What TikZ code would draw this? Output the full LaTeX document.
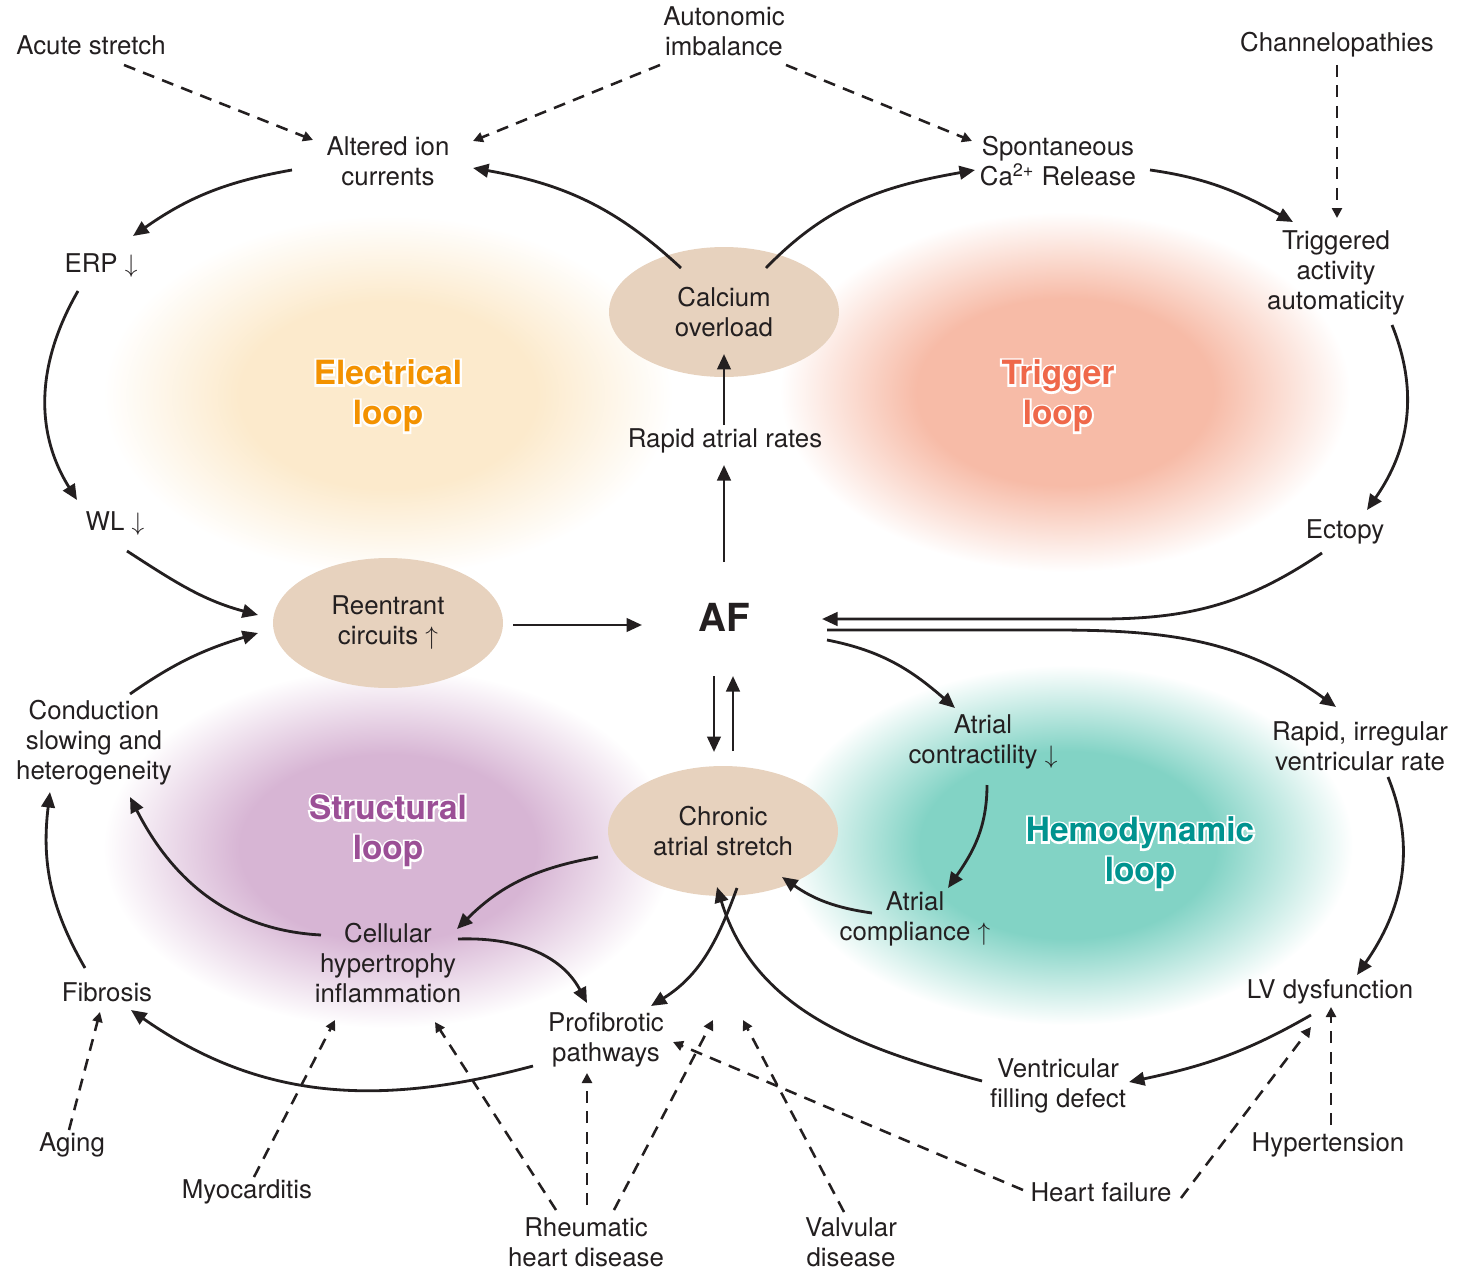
\documentclass[tikz,border=0pt]{standalone}
\usepackage{fontspec}
\setmainfont{TeX Gyre Heros}
\newfontface\halofont[FakeBold=12]{TeX Gyre Heros Bold}
\usetikzlibrary{arrows.meta,positioning,shapes.geometric,calc}
\definecolor{ink}{RGB}{35,31,32}
\definecolor{ovalfill}{RGB}{231,210,190}
\definecolor{elecorange}{RGB}{243,146,0}
\definecolor{trigred}{RGB}{239,104,74}
\definecolor{structpurple}{RGB}{155,79,150}
\definecolor{hemoteal}{RGB}{0,147,143}
\definecolor{elecblob}{RGB}{252,234,204}
\definecolor{trigblob}{RGB}{247,187,167}
\definecolor{structblob}{RGB}{215,181,212}
\definecolor{hemoblob}{RGB}{130,211,197}
\colorlet{blobcol}{white}
\pgfdeclareradialshading[blobcol]{blob}{\pgfpoint{0bp}{0bp}}{color(0bp)=(blobcol); color(13bp)=(blobcol); color(25bp)=(white); color(50bp)=(white)}

\begin{document}
\begin{tikzpicture}[x=0.02cm,y=0.02cm,
    txt/.style={font=\fontsize{14.7}{17.1}\selectfont, align=center, inner sep=0pt, text=ink},
    oval/.style={txt, ellipse, fill=ovalfill, minimum width=4.6cm, minimum height=2.6cm},
    looplabel/.style={font=\fontsize{19}{22.8}\selectfont\bfseries, align=center, inner sep=0pt},
    halolabel/.style={font=\fontsize{19}{22.8}\selectfont\halofont, align=center, inner sep=0pt, text=white},
    arr/.style={ink, line width=1.6pt, -{Triangle[length=3.1mm,width=2.7mm]}},
    darr/.style={ink, line width=1.45pt, dash pattern=on 2.4mm off 1.7mm, -{Triangle[length=2mm,width=2mm]}}]
  \useasboundingbox (0,0) rectangle (1461,-1274);

  \foreach \cx/\cy/\col in {388/395/elecblob, 1065/392/trigblob, 388/848/structblob, 1068/845/hemoblob}{
    \colorlet{blobcol}{\col}
    \shade[shading=blob] (\cx,-\cy) ellipse [x radius=285, y radius=180];
  }

  \foreach \nm/\px/\py/\col/\word in {elecLoop/388/396/elecorange/Electrical, trigLoop/1058/396/trigred/Trigger, structLoop/388/831/structpurple/Structural, hemoLoop/1140/853/hemoteal/Hemodynamic}{
    \node[halolabel] (\nm-halo) at (\px,-\py) {\word\\loop};
    \node[looplabel, text=\col] (\nm) at (\px,-\py) {\word\\loop};
  }

  \node[oval] (calcium) at (724,-312) {Calcium\\overload};
  \node[oval] (reen) at (388,-623) {Reentrant\\circuits $\uparrow$};
  \node[oval] (chronic) at (723,-831) {Chronic\\atrial stretch};

  \node[txt] (acute) at (91,-45) {Acute stretch};
  \node[txt] (auton) at (724,-31) {Autonomic\\imbalance};
  \node[txt] (chan) at (1337,-45) {Channelopathies};
  \node[txt] (ion) at (388,-161) {Altered ion\\currents};
  \node[txt] (spont) at (1058,-161) {Spontaneous\\Ca\textsuperscript{2+} Release};
  \node[txt] (trig) at (1336,-273) {Triggered\\activity\\automaticity};
  \node[txt] (erp) at (101,-266) {ERP $\downarrow$};
  \node[txt] (rar) at (725,-441) {Rapid atrial rates};
  \node[txt] (wl) at (115,-524) {WL $\downarrow$};
  \node[txt] (ectopy) at (1345,-532) {Ectopy};
  \node[font=\fontsize{22}{26}\selectfont\bfseries, inner sep=0pt, text=ink] (af) at (724,-617) {AF};
  \node[txt] (cond) at (94,-743) {Conduction\\slowing and\\heterogeneity};
  \node[txt] (contr) at (983,-742) {Atrial\\contractility $\downarrow$};
  \node[txt] (rir) at (1360,-746) {Rapid, irregular\\ventricular rate};
  \node[txt] (compl) at (915,-919) {Atrial\\compliance $\uparrow$};
  \node[txt] (cell) at (388,-963) {Cellular\\hypertrophy\\inflammation};
  \node[txt] (fib) at (107,-992) {Fibrosis};
  \node[txt] (prof) at (606,-1040) {Profibrotic\\pathways};
  \node[txt] (lv) at (1330,-992) {LV dysfunction};
  \node[txt] (vfd) at (1058,-1086) {Ventricular\\filling defect};
  \node[txt] (aging) at (72,-1145) {Aging};
  \node[txt] (myo) at (247,-1192) {Myocarditis};
  \node[txt] (hyper) at (1328,-1145) {Hypertension};
  \node[txt] (hf) at (1101,-1192) {Heart failure};
  \node[txt] (rheum) at (586,-1242) {Rheumatic\\heart disease};
  \node[txt] (valv) at (851,-1242) {Valvular\\disease};
  \coordinate (rhdTip) at (713,-1020);
  \coordinate (valvTip) at (743,-1020);

  \draw[arr] ($(ion)+(-96,-9)$) to[out=190,in=35] ($(erp)+(32,30)$);
  \draw[arr] ($(erp)+(-23,-25)$) to[out=240,in=122] ($(wl)+(-38,24)$);
  \draw[arr] ($(wl)+(12,-27)$) to[out=-33,in=165] ($(reen)+(-130,8)$);
  \draw[arr] ($(cond)+(36,49)$) to[out=35,in=197] ($(reen)+(-130,-10)$);
  \draw[arr] ($(reen)+(125,-2)$) -- ($(af)+(-82,-8)$);
  \draw[arr] ($(af)+(0,55)$) -- ($(rar)+(-1,-24)$);
  \draw[arr] ($(rar)+(-1,16)$) -- ($(calcium)+(0,-42)$);
  \draw[arr] ($(calcium)+(-43,44)$) to[out=137,in=-10] ($(ion)+(85,-7)$);
  \draw[arr] ($(calcium)+(42,44)$) to[out=46,in=190] ($(spont)+(-83,-9)$);
  \draw[arr] ($(spont)+(92,-9)$) to[out=-8,in=151] ($(trig)+(-43,51)$);
  \draw[arr] ($(trig)+(56,-52)$) to[out=-68,in=55] ($(ectopy)+(22,22)$);
  \draw[arr] ($(ectopy)+(-23,-21)$) to[out=214,in=0] ($(af)+(376,-2)$) -- ($(af)+(98,-2)$);
  \draw[arr] ($(af)+(103,-13)$) -- ($(af)+(330,-13)$) to[out=0,in=144] ($(rir)+(-24,39)$);
  \draw[arr] ($(af)+(103,-23)$) to[out=-11,in=139] ($(contr)+(-28,34)$);
  \draw[arr] ($(af)+(-10,-59)$) -- ($(chronic)+(-9,79)$);
  \draw[arr] ($(chronic)+(10,80)$) -- ($(af)+(9,-59)$);
  \draw[arr] ($(contr)+(4,-43)$) to[out=-90,in=55] ($(compl)+(33,31)$);
  \draw[arr] ($(compl)+(-43,6)$) to[out=172,in=-35] ($(chronic)+(59,-46)$);
  \draw[arr] ($(chronic)+(-125,-26)$) to[out=190,in=45] ($(cell)+(69,34)$);
  \draw[arr] ($(cell)+(-67,28)$) to[out=177,in=-63] ($(cond)+(36,-54)$);
  \draw[arr] ($(cell)+(70,24)$) to[out=2,in=118] ($(prof)+(-19,37)$);
  \draw[arr] ($(chronic)+(14,-57)$) to[out=250,in=32] ($(prof)+(45,34)$);
  \draw[arr] ($(prof)+(-73,-26)$) to[out=195,in=-35] ($(fib)+(24,-18)$);
  \draw[arr] ($(fib)+(-22,24)$) to[out=120,in=-97] ($(cond)+(-44,-49)$);
  \draw[arr] ($(rir)+(28,-31)$) to[out=-68,in=55] ($(lv)+(27,17)$);
  \draw[arr] ($(lv)+(-19,-23)$) to[out=210,in=12] ($(vfd)+(71,4)$);
  \draw[arr] ($(vfd)+(-76,5)$) to[out=165,in=-73] ($(chronic)+(-6,-56)$);

  \draw[darr] ($(acute)+(33,-20)$) -- ($(ion)+(-75,21)$);
  \draw[darr] ($(auton)+(-64,-34)$) -- ($(ion)+(85,20)$);
  \draw[darr] ($(auton)+(62,-34)$) -- ($(spont)+(-86,20)$);
  \draw[darr] ($(chan)+(0,-20)$) -- ($(trig)+(1,55)$);
  \draw[darr] ($(aging)+(-3,15)$) -- ($(fib)+(-7,-20)$);
  \draw[darr] ($(myo)+(7,15)$) -- ($(cell)+(-53,-57)$);
  \draw[darr] ($(rheum)+(-30,32)$) -- ($(cell)+(47,-59)$);
  \draw[darr] ($(rheum)+(1,37)$) -- ($(prof)+(-19,-33)$);
  \draw[darr] ($(rheum)+(28,32)$) -- (rhdTip);
  \draw[darr] ($(valv)+(-7,30)$) -- (valvTip);
  \draw[darr] ($(hf)+(-78,2)$) -- ($(prof)+(67,-2)$);
  \draw[darr] ($(hf)+(80,-6)$) -- ($(lv)+(-19,-35)$);
  \draw[darr] ($(hyper)+(3,20)$) -- ($(lv)+(1,-15)$);
\end{tikzpicture}
\end{document}
